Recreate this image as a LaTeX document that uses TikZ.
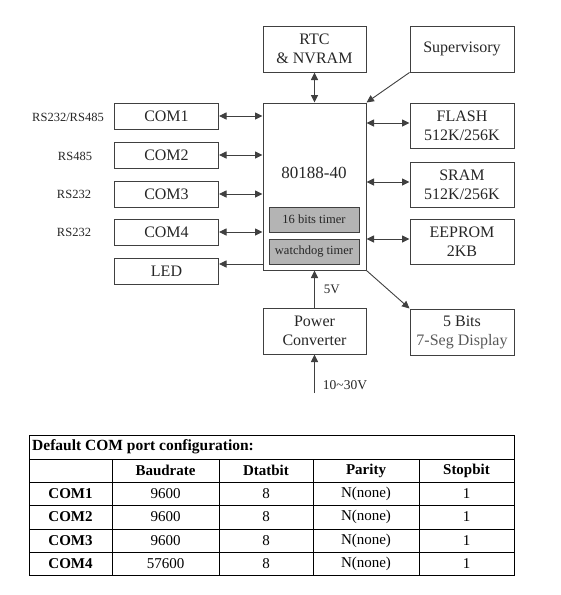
\documentclass[tikz,border=0pt]{standalone}
\usepackage{fontspec}
\setmainfont{Liberation Serif}
\usepackage{tikz}
\usetikzlibrary{arrows.meta, positioning}
\definecolor{linegray}{HTML}{404040}
\definecolor{timergray}{HTML}{B4B4B4}
\tikzset{
  blk/.style={draw=linegray, line width=1pt, minimum width=104pt, inner sep=0pt, align=center, text=black!85, font=\fontsize{16}{19}\selectfont},
  port/.style={blk, minimum height=26pt},
  chip/.style={blk, minimum height=46pt},
  timer/.style={draw=linegray, line width=0.8pt, fill=timergray, minimum width=90pt, minimum height=25pt, inner sep=0pt, text=black!85, font=\fontsize{12.5}{14}\selectfont},
  lnk/.style={draw=linegray, line width=0.9pt, -{Triangle[length=7.5pt,width=7pt]}},
  dlnk/.style={lnk, {Triangle[length=7.5pt,width=7pt]}-{Triangle[length=7.5pt,width=7pt]}},
  side/.style={inner sep=0pt, text=black!85, font=\fontsize{12.5}{14}\selectfont},
  cell/.style={inner sep=0pt, font=\fontsize{15}{17}\selectfont},
}

\begin{document}
\begin{tikzpicture}[x=1pt, y=-1pt]
    \useasboundingbox (0,0) rectangle (561,595);
    % 主芯片
    \node[blk, minimum width=103pt, minimum height=167pt] (cpu) at (314.5,186.5) {};
    \node[blk, draw=none, font=\fontsize{17}{19}\selectfont] (cpuname) at (314,173) {80188-40};
    \node[timer] (tmr) at (314,219.5) {16 bits timer};
    \node[timer] (wdt) at (314,251.5) {watchdog timer};
    % 左侧串口
    \node[port] (com1) at (166.5,116) {COM1};
    \node[port] (com2) at (166.5,155) {COM2};
    \node[port] (com3) at (166.5,194) {COM3};
    \node[port] (com4) at (166.5,232) {COM4};
    \node[port] (led) at (166.5,271) {LED};
    \node[side] (if1) at (68,117) {RS232/RS485};
    \node[side] (if2) at (75,156) {RS485};
    \node[side] (if3) at (74,194) {RS232};
    \node[side] (if4) at (74,232) {RS232};
    % 上方和右侧
    \node[chip, minimum width=103pt] (rtc) at (314.5,49) {RTC\\\& NVRAM};
    \node[chip] (sup) at (462,49) {Supervisory};
    \node[chip, minimum height=45pt] (flash) at (462,125.5) {FLASH\\512K/256K};
    \node[chip, minimum height=45pt] (sram) at (462,184.5) {SRAM\\512K/256K};
    \node[chip, minimum height=45pt] (eeprom) at (462,241.5) {EEPROM\\2KB};
    \node[chip] (seg) at (462,332) {5 Bits\\\textcolor{black!65}{7-Seg Display}};
    \node[chip, minimum width=103pt] (pwr) at (314.5,331) {Power\\Converter};
    % 连线
    \foreach \p in {com1,com2,com3,com4}
        \draw[dlnk] (\p.east) -- (\p.east -| cpu.west);
    \coordinate (ledin) at ([yshift=7pt]led.east);
    \draw[lnk] (ledin -| cpu.west) -- (ledin);
    \draw[dlnk] (rtc.south) -- (cpu.north);
    \draw[lnk] (sup.south west) -- (cpu.north east);
    \foreach \m in {flash,sram,eeprom}
        \draw[dlnk] ([yshift=2.5pt]\m.west -| cpu.east) -- ([yshift=2.5pt]\m.west);
    \draw[lnk] (cpu.south east) -- (seg.north west);
    \draw[lnk] (pwr.north) -- (cpu.south) node[side, midway, right=9pt, font=\fontsize{13}{15}\selectfont] (v5) {5V};
    \coordinate (vin) at (314.5,393);
    \draw[lnk] (vin) -- (pwr.south) node[side, pos=0.2, right=8pt, font=\fontsize{13.5}{15}\selectfont] (v30) {10\char`~30V};
    % 表格
    \draw[line width=0.9pt] (29,435) rectangle (514,575);
    \foreach \y in {459,482,505,529,552}
        \draw[line width=0.9pt] (29,\y) -- (514,\y);
    \foreach \x in {112,219,313,419}
        \draw[line width=0.9pt] (\x,459) -- (\x,575);
    \node[cell, anchor=west, font=\bfseries\fontsize{15.5}{17}\selectfont] (ttl) at (32,447) {Default COM port configuration:};
    \node[cell, font=\bfseries\fontsize{15}{17}\selectfont] (hb) at (165.5,470.5) {Baudrate};
    \node[cell, font=\bfseries\fontsize{15}{17}\selectfont] (hd) at (266,470.5) {Dtatbit};
    \node[cell, font=\bfseries\fontsize{15}{17}\selectfont] (hp) at (366,470.5) {Parity};
    \node[cell, font=\bfseries\fontsize{15}{17}\selectfont] (hs) at (466.5,470.5) {Stopbit};
    \foreach \n/\y/\b in {1/493.5/9600, 2/517/9600, 3/540.5/9600, 4/563.5/57600} {
        \node[cell, font=\bfseries\fontsize{15}{17}\selectfont] (r\n) at (70.5,\y) {COM\n};
        \node[cell] (b\n) at (165.5,\y) {\b};
        \node[cell] (d\n) at (266,\y) {8};
        \node[cell] (p\n) at (366,\y) {N(none)};
        \node[cell] (s\n) at (466.5,\y) {1};
    }
\end{tikzpicture}
\end{document}
